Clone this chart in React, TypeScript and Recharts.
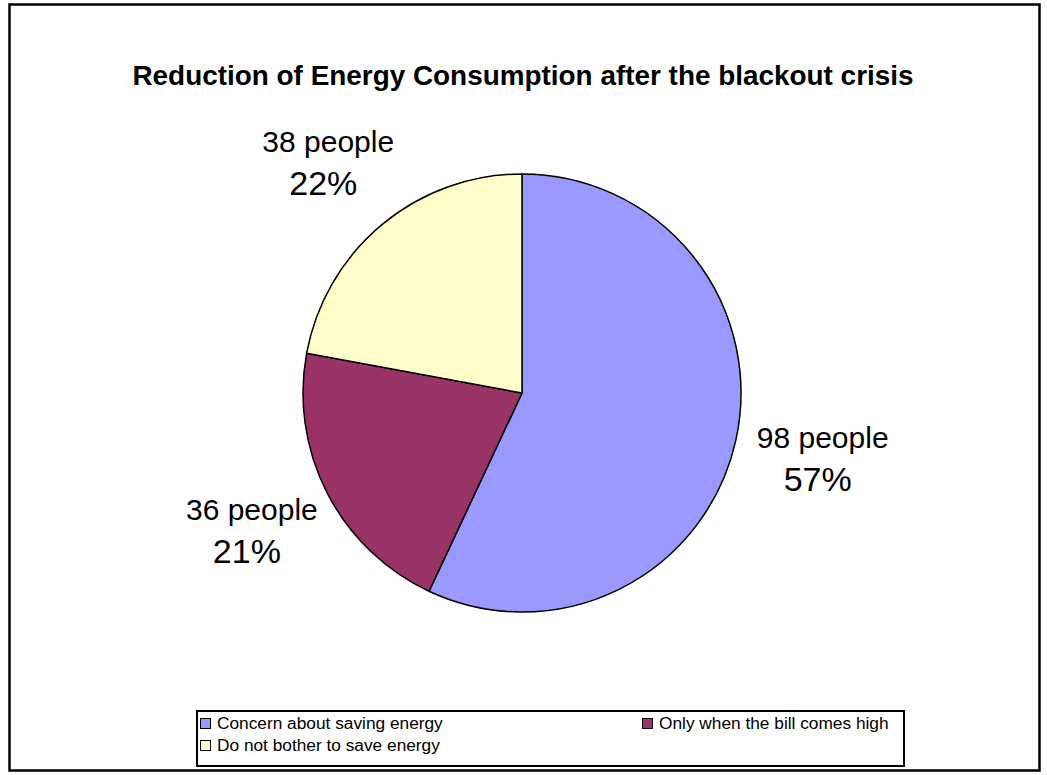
import React from 'react';
import { PieChart, Pie, Cell, Legend } from 'recharts';

const title = 'Reduction of Energy Consumption after the blackout crisis';
const categories = ['Concern about saving energy', 'Only when the bill comes high', 'Do not bother to save energy'];
const people = [98, 36, 38];
const colors = ['#9999FF', '#993366', '#FFFFCC'];

const data = categories.map((name, i) => ({ name, value: people[i] }));
const total = people.reduce((a, b) => a + b, 0);
const FONT = '"Liberation Sans", Arial, Helvetica, sans-serif';
const RAD = Math.PI / 180;

const renderLabel = (props: any) => {
  const { cx, cy, midAngle, outerRadius, value } = props;
  const c = Math.cos(-midAngle * RAD);
  const s = Math.sin(-midAngle * RAD);
  const x = cx + (outerRadius + 87) * c;
  const y = cy + (outerRadius + 81) * s;
  const pct = Math.round((value / total) * 100);
  return (
    <g>
      <text x={x + 2} y={y - 10} textAnchor="middle" fontFamily={FONT} fontSize={30} fill="#000">
        {value} people
      </text>
      <text x={x - 3} y={y + 33} textAnchor="middle" fontFamily={FONT} fontSize={34} fill="#000">
        {pct}%
      </text>
    </g>
  );
};

const renderLegend = (props: any) => {
  const payload = props.payload || [];
  const items = categories.map((name, i) => {
    const p = payload.find((e: any) => e.value === name);
    return { name, color: (p && p.color) || colors[i] };
  });
  const Item = ({ it }: any) => (
    <div style={{ display: 'flex', alignItems: 'center', height: 22 }}>
      <div style={{ width: 9, height: 9, background: it.color, border: '1px solid #000', marginRight: 6, marginLeft: 2 }} />
      <span style={{ fontFamily: FONT, fontSize: 17.3, color: '#000', whiteSpace: 'nowrap' }}>{it.name}</span>
    </div>
  );
  return (
    <div
      style={{
        boxSizing: 'border-box',
        width: 709,
        height: 57,
        border: '2px solid #000',
        display: 'grid',
        gridTemplateColumns: '442px 260px',
        alignContent: 'start',
        paddingTop: 0,
      }}
    >
      {items.map((it) => (
        <Item key={it.name} it={it} />
      ))}
    </div>
  );
};

export default function App() {
  return (
    <div style={{ position: 'absolute', left: 0, top: 0, width: 1047, height: 775, background: '#fff' }}>
      <PieChart width={1047} height={775} margin={{ top: 0, right: 0, bottom: 0, left: 0 }}>
        <Pie
          data={data}
          dataKey="value"
          nameKey="name"
          cx={522}
          cy={393}
          outerRadius={219}
          startAngle={90}
          endAngle={-270}
          stroke="#000"
          strokeWidth={1.5}
          label={renderLabel}
          labelLine={false}
          isAnimationActive={false}
        >
          {data.map((d, i) => (
            <Cell key={d.name} fill={colors[i]} />
          ))}
        </Pie>
        <Legend
          content={renderLegend}
          wrapperStyle={{ position: 'absolute', left: 196, top: 710, width: 709, height: 57 }}
        />
      </PieChart>
      <svg width={1047} height={775} style={{ position: 'absolute', left: 0, top: 0, pointerEvents: 'none' }}>
        <text x={523} y={85} textAnchor="middle" fontFamily={FONT} fontWeight="bold" fontSize={27.9} fill="#000">
          {title}
        </text>
        <rect x={9.5} y={4.5} width={1030} height={766} fill="none" stroke="#000" strokeWidth={2.5} />
      </svg>
    </div>
  );
}
